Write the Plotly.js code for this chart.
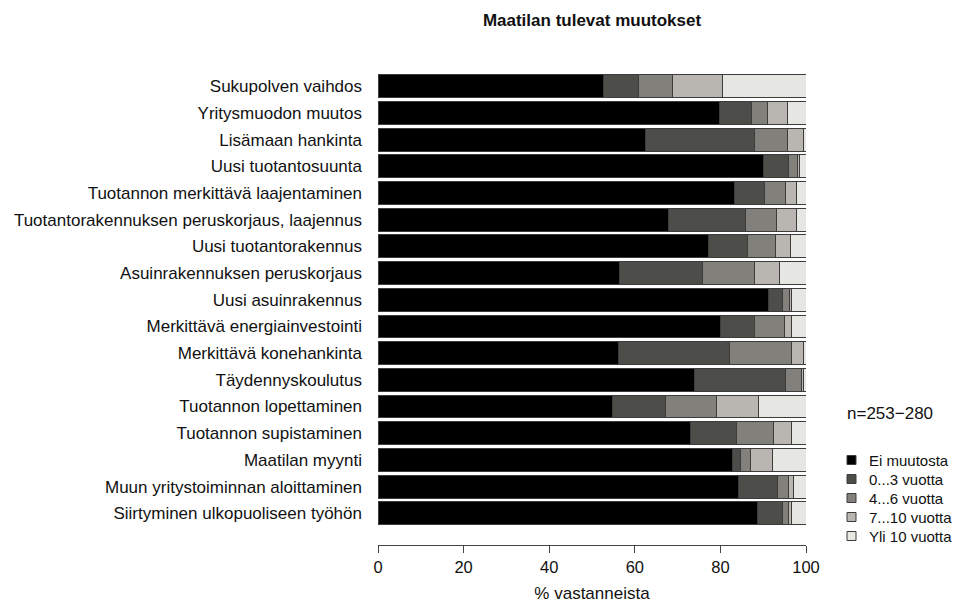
<!DOCTYPE html>
<html>
<head>
<meta charset="utf-8">
<script src="https://cdn.plot.ly/plotly-3.0.1.min.js"></script>
<style>html,body{margin:0;padding:0;background:#fff}#chart{width:954px;height:605px}</style>
</head>
<body>
<div id="chart"></div>
<script>
const categories = [
  "Sukupolven vaihdos",
  "Yritysmuodon muutos",
  "Lisämaan hankinta",
  "Uusi tuotantosuunta",
  "Tuotannon merkittävä laajentaminen",
  "Tuotantorakennuksen peruskorjaus, laajennus",
  "Uusi tuotantorakennus",
  "Asuinrakennuksen peruskorjaus",
  "Uusi asuinrakennus",
  "Merkittävä energiainvestointi",
  "Merkittävä konehankinta",
  "Täydennyskoulutus",
  "Tuotannon lopettaminen",
  "Tuotannon supistaminen",
  "Maatilan myynti",
  "Muun yritystoiminnan aloittaminen",
  "Siirtyminen ulkopuoliseen työhön"
];
const seriesNames = ["Ei muutosta", "0...3 vuotta", "4...6 vuotta", "7...10 vuotta", "Yli 10 vuotta"];
const eiMuutosta = [52.8, 79.8, 62.5, 90.0, 83.3, 67.8, 77.3, 56.5, 91.2, 80.0, 56.1, 74.0, 54.7, 73.1, 82.8, 84.3, 88.6];
const v0_3      = [8.0, 7.4, 25.5, 5.9, 7.0, 18.0, 9.0, 19.4, 3.3, 8.0, 26.0, 21.1, 12.4, 10.6, 1.8, 9.0, 5.9];
const v4_6      = [8.0, 3.7, 7.6, 2.0, 4.9, 7.4, 6.6, 12.1, 1.7, 7.0, 14.6, 3.9, 12.1, 8.8, 2.5, 2.6, 1.4];
const v7_10     = [11.6, 4.7, 3.7, 0.6, 2.6, 4.5, 3.4, 5.9, 0.5, 1.6, 2.6, 0.5, 9.7, 4.1, 5.0, 1.1, 0.7];
const yli10     = [19.6, 4.4, 0.7, 1.5, 2.2, 2.3, 3.7, 6.1, 3.3, 3.4, 0.7, 0.5, 11.1, 3.4, 7.9, 3.0, 3.4];
const xTicks = [0, 20, 40, 60, 80, 100];
const nText = "n=253\u2212280";

const seriesValues = [eiMuutosta, v0_3, v4_6, v7_10, yli10];
const colors = ["#000000", "#4d4d49", "#82807b", "#b9b6b2", "#e6e6e3"];

const W = 954, H = 605;
const M = { l: 378, r: 148, t: 73, b: 60 };
const PW = W - M.l - M.r, PH = H - M.t - M.b;
const px2x = px => (px - M.l) / PW;
const px2y = py => 1 - (py - M.t) / PH;

const data = seriesValues.map((vals, i) => ({
  type: "bar",
  orientation: "h",
  name: seriesNames[i],
  x: vals,
  y: categories,
  marker: { color: colors[i], line: { color: "#3c3c3c", width: 1 } },
  hoverinfo: "x+y+name"
}));

// Manual legend (compact spacing like the reference)
const legShapes = [], legAnn = [];
const legTop = 460, legStep = 19, sq = 9, sqX = 847, txtX = 867;
seriesNames.forEach((nm, i) => {
  const cy = legTop + i * legStep;
  legShapes.push({
    type: "rect", xref: "paper", yref: "paper",
    x0: px2x(sqX), x1: px2x(sqX + sq),
    y0: px2y(cy - sq / 2), y1: px2y(cy + sq / 2),
    fillcolor: colors[i], line: { color: "#3c3c3c", width: 1 }
  });
  legAnn.push({
    text: nm, xref: "paper", yref: "paper",
    x: px2x(txtX), xanchor: "left",
    y: px2y(cy), yanchor: "middle",
    showarrow: false, font: { size: 15, color: "#111111" }
  });
});

const layout = {
  width: W, height: H,
  paper_bgcolor: "#ffffff", plot_bgcolor: "#ffffff",
  font: { family: "Liberation Sans, Arial, sans-serif", color: "#111111" },
  barmode: "stack",
  bargap: 0.14,
  margin: M,
  title: {
    text: "<b>Maatilan tulevat muutokset</b>",
    font: { size: 17, color: "#111111" },
    x: 0.5, xref: "paper", y: 1 - 20 / H, yanchor: "middle"
  },
  xaxis: {
    range: [0, 100],
    tickvals: xTicks,
    ticktext: xTicks.map(String),
    ticks: "outside", ticklen: 7, tickcolor: "#444444", tickwidth: 1,
    showline: true, linecolor: "#444444", linewidth: 1,
    showgrid: false, zeroline: false,
    tickfont: { size: 16.5, color: "#111111" },
    title: { text: "% vastanneista", font: { size: 17, color: "#111111" }, standoff: 12 },
    fixedrange: true
  },
  yaxis: {
    type: "category",
    range: [17.19, -0.5],
    showgrid: false, zeroline: false, showline: false,
    ticks: "",
    ticklabelstandoff: 15,
    tickfont: { size: 17, color: "#111111" },
    fixedrange: true
  },
  showlegend: false,
  shapes: legShapes,
  annotations: [{
    text: nText,
    xref: "paper", yref: "paper",
    x: px2x(845), xanchor: "left",
    y: px2y(413), yanchor: "middle",
    showarrow: false,
    font: { size: 17, color: "#111111" }
  }].concat(legAnn)
};

Plotly.newPlot("chart", data, layout, { displayModeBar: false, staticPlot: true });
</script>
</body>
</html>
